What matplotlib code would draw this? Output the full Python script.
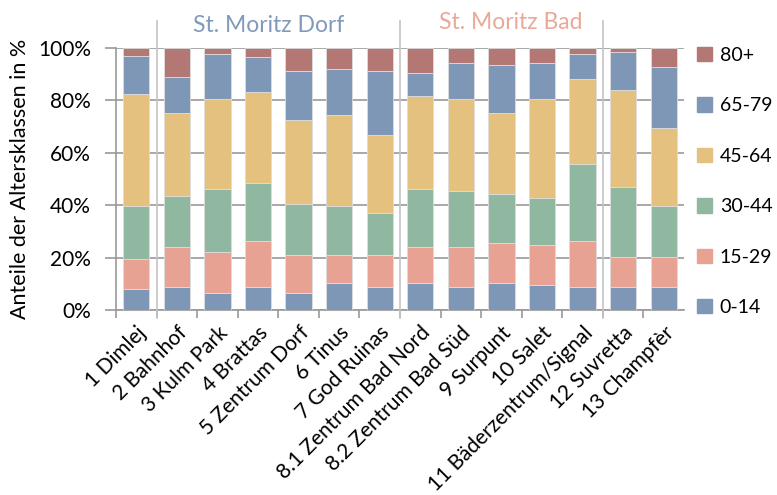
import numpy as np
import matplotlib
matplotlib.use("Agg")
from matplotlib import pyplot as plt
from matplotlib.patches import Patch
from matplotlib.ticker import FuncFormatter

plt.rcParams["font.family"] = ["Lato", "DejaVu Sans"]

quartiere = ["1 Dimlej", "2 Bahnhof", "3 Kulm Park", "4 Brattas", "5 Zentrum Dorf",
             "6 Tinus", "7 God Ruinas", "8.1 Zentrum Bad Nord", "8.2 Zentrum Bad Süd",
             "9 Surpunt", "10 Salet", "11 Bäderzentrum/Signal", "12 Suvretta", "13 Champfèr"]

# Anteile in % je Altersklasse
a_0_14 = [8.1, 8.9, 6.6, 8.9, 6.6, 10.3, 8.9, 10.3, 8.9, 10.3, 9.5, 8.9, 8.9, 8.9]
a_15_29 = [11.5, 15.1, 15.4, 17.3, 14.5, 10.8, 12.2, 13.7, 15.1, 15.1, 15.2, 17.3, 11.4, 11.4]
a_30_44 = [20.2, 19.5, 24.3, 22.3, 19.4, 18.7, 15.9, 22.3, 21.5, 18.8, 18.0, 29.6, 26.7, 19.5]
a_45_64 = [42.7, 31.7, 34.0, 34.7, 31.9, 34.7, 29.7, 35.4, 34.8, 31.0, 37.6, 32.4, 36.9, 29.7]
a_65_79 = [14.4, 13.7, 17.4, 13.1, 18.7, 17.4, 24.4, 8.8, 13.7, 18.1, 13.7, 9.5, 14.4, 23.0]
a_80 = [3.1, 11.1, 2.3, 3.7, 8.9, 8.1, 8.9, 9.5, 6.0, 6.7, 6.0, 2.3, 1.7, 7.5]

klassen = ["0-14", "15-29", "30-44", "45-64", "65-79", "80+"]
werte = [a_0_14, a_15_29, a_30_44, a_45_64, a_65_79, a_80]
farben = ["#7f97b6", "#e8a293", "#90b8a1", "#e5c17f", "#7f97b6", "#b37873"]

fig = plt.figure(figsize=(7.77, 4.95), dpi=100)
ax = fig.add_axes([0.1493, 0.3737, 0.7310, 0.5299])

x = np.arange(len(quartiere))
unten = np.zeros(len(quartiere))
for k, w, c in zip(klassen, werte, farben):
    w = np.array(w)
    ax.bar(x, w, 0.65, bottom=unten, color=c, edgecolor="#dddddd", linewidth=0.6, zorder=3)
    unten += w

ax.set_xlim(-0.5, len(quartiere) - 0.5)
ax.set_ylim(0, 100)
ax.set_yticks(np.arange(0, 101, 20))
ax.yaxis.set_major_formatter(FuncFormatter(lambda v, p: "%d%%" % v))
ax.grid(axis="y", color="#999999", linewidth=1.2, zorder=0)
ax.tick_params(axis="y", length=8, color="#999999", width=1.2, labelsize=15, pad=10)

# Tickmarks an den Kategoriegrenzen, Beschriftung in der Mitte
ax.set_xticks(np.arange(-0.5, len(quartiere) - 1, 1))
ax.set_xticklabels([])
ax.tick_params(axis="x", which="major", length=6, color="#999999", width=1.2)
ax.set_xticks(x, minor=True)
ax.set_xticklabels(quartiere, minor=True, rotation=45, ha="right",
                   rotation_mode="anchor", fontsize=15)
ax.tick_params(axis="x", which="minor", length=0, pad=9)

for s in ["top", "right"]:
    ax.spines[s].set_visible(False)
ax.spines["left"].set_color("#999999")
ax.spines["bottom"].set_color("#999999")
ax.spines["left"].set_linewidth(1.2)
ax.spines["bottom"].set_linewidth(1.2)

ax.set_ylabel("Anteile der Altersklassen in %", fontsize=15.5, labelpad=6)

# Gruppentrenner
trans = ax.get_xaxis_transform()
for xs in [0.5, 6.5, 11.5]:
    ax.plot([xs, xs], [-0.03, 1.1], color="#c4c4c4", linewidth=1.2,
            transform=trans, clip_on=False, zorder=4)
ax.text(3.27, 1.083, "St. Moritz Dorf", transform=trans, ha="center", va="center",
        fontsize=16.5, color="#8199ba")
ax.text(9.23, 1.098, "St. Moritz Bad", transform=trans, ha="center", va="center",
        fontsize=16.5, color="#eaa898")

handles = [Patch(color=c, label=k) for k, c in zip(klassen, farben)][::-1]
fig.legend(handles=handles, loc="upper left", bbox_to_anchor=(0.885, 0.925),
           frameon=False, fontsize=14, handlelength=0.75, handleheight=0.75,
           handletextpad=0.4, labelspacing=1.72, borderpad=0)

fig.savefig("out.png", dpi=100)
